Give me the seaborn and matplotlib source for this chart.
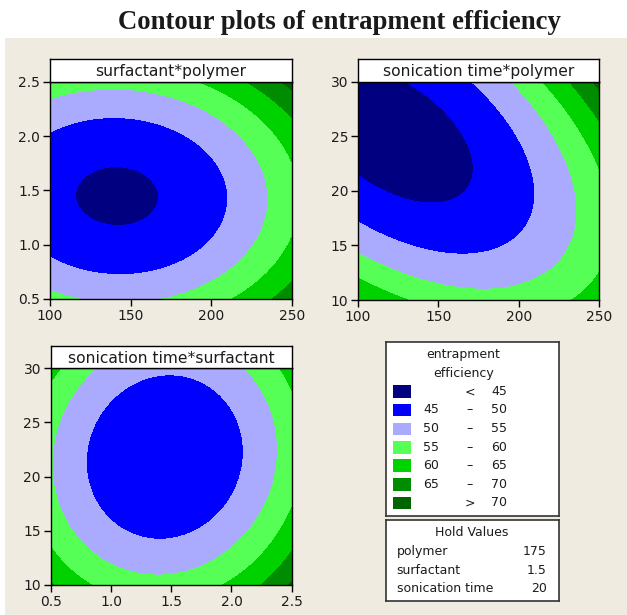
import numpy as np
import matplotlib
matplotlib.use("Agg")
import matplotlib.pyplot as plt
from matplotlib.patches import Rectangle
import seaborn as sns

# factors: name, low, high, hold value
factors = ["polymer", "surfactant", "sonication time"]
low = [100, 0.5, 10]
high = [250, 2.5, 30]
hold = [175, 1.5, 20]
hold_text = ["175", "1.5", "20"]

# quadratic response surface (coded units -1..1), estimated from the contours
b0 = 45.6
b_lin = [6.2, 1.4, -3.04]
b_sq = [6.94, 11.15, 8.22]
b_int = {(0, 1): 0.5, (0, 2): 7.5, (1, 2): -1.2}

levels = [0, 45, 50, 55, 60, 65, 70, 100]
colors = ["#000080", "#0000FF", "#AAAAFF", "#55FF55", "#00D200", "#008C00", "#006400"]
leg_low = ["", "45", "50", "55", "60", "65", ""]
leg_mid = ["<", "–", "–", "–", "–", "–", ">"]
leg_high = ["45", "50", "55", "60", "65", "70", "70"]

ticks = {0: [100, 150, 200, 250], 1: [0.5, 1.0, 1.5, 2.0, 2.5], 2: [10, 15, 20, 25, 30]}
tick_labels = {0: ["100", "150", "200", "250"],
               1: ["0.5", "1.0", "1.5", "2.0", "2.5"],
               2: ["10", "15", "20", "25", "30"]}

# (y factor, x factor, panel rect in px: left, top, right, bottom)
panels = [(1, 0, (50, 81.7, 291.7, 299)),
          (2, 0, (358, 81.7, 599, 300)),
          (2, 1, (50.7, 368.3, 291.7, 585))]

W, H = 627, 615


def response(c):
    y = b0
    for i in range(3):
        y = y + b_lin[i] * c[i] + b_sq[i] * c[i] ** 2
    for (i, j), b in b_int.items():
        y = y + b * c[i] * c[j]
    return y


def px_rect(l, t, r, b):
    return [l / W, (H - b) / H, (r - l) / W, (b - t) / H]


sns.set_style("ticks")
plt.rcParams["font.family"] = ["DejaVu Sans"]

fig = plt.figure(figsize=(W / 100, H / 100), dpi=100)
fig.patches.append(Rectangle((5 / W, 0), 1, (H - 38) / H, transform=fig.transFigure,
                             facecolor="#EFEBE1", edgecolor="none", zorder=-10))
fig.text(0.541, 0.963, "Contour plots of entrapment efficiency", ha="center", va="center",
         fontsize=19.3, fontweight="bold", family="Liberation Serif", color="#1a1a1a")

mid = [(lo + hi) / 2 for lo, hi in zip(low, high)]
half = [(hi - lo) / 2 for lo, hi in zip(low, high)]
u = np.linspace(-1, 1, 301)

for iy, ix, (l, t, r, b) in panels:
    ax = fig.add_axes(px_rect(l, t, r, b))
    U, V = np.meshgrid(u, u)
    coded = [np.full_like(U, (hold[k] - mid[k]) / half[k]) for k in range(3)]
    coded[ix] = U
    coded[iy] = V
    Z = response(coded)
    X = mid[ix] + half[ix] * U
    Y = mid[iy] + half[iy] * V
    ax.contourf(X, Y, Z, levels=levels, colors=colors)
    ax.set_xlim(low[ix], high[ix])
    ax.set_ylim(low[iy], high[iy])
    ax.set_xticks(ticks[ix])
    ax.set_xticklabels(tick_labels[ix])
    ax.set_yticks(ticks[iy])
    ax.set_yticklabels(tick_labels[iy])
    ax.tick_params(direction="out", length=5, width=1, color="black",
                   labelsize=10, labelcolor="#1c1c1c", pad=2)
    for s in ax.spines.values():
        s.set_color("black")
        s.set_linewidth(1)
        s.set_visible(True)

    # title strip above the panel
    tax = fig.add_axes(px_rect(l, t - 22.5, r, t))
    tax.set_facecolor("white")
    tax.set_xticks([])
    tax.set_yticks([])
    for s in tax.spines.values():
        s.set_color("black")
        s.set_linewidth(1)
    tax.text(0.5, 0.45, f"{factors[iy]}*{factors[ix]}", ha="center", va="center",
             fontsize=11.2, color="#1c1c1c", transform=tax.transAxes)

# legend box
lax = fig.add_axes(px_rect(385.7, 342.3, 559, 515.7))
lax.set_xlim(385.7, 559)
lax.set_ylim(515.7, 342.3)
lax.set_facecolor("white")
lax.set_xticks([])
lax.set_yticks([])
for s in lax.spines.values():
    s.set_color("#333333")
    s.set_linewidth(1.2)
lax.text(463.3, 355, "entrapment", ha="center", va="center", fontsize=9, color="#1c1c1c")
lax.text(463.3, 374, "efficiency", ha="center", va="center", fontsize=9, color="#1c1c1c")
row_y = [391.7, 410, 429, 447.3, 465.7, 484.3, 503]
for yy, c, lo, md, hi in zip(row_y, colors, leg_low, leg_mid, leg_high):
    lax.add_patch(Rectangle((393.3, yy - 6.3), 17.7, 12.7, facecolor=c, edgecolor="none"))
    lax.text(423, yy, lo, ha="left", va="center", fontsize=9, color="#1c1c1c")
    lax.text(470, yy, md, ha="center", va="center", fontsize=9, color="#1c1c1c")
    lax.text(491, yy, hi, ha="left", va="center", fontsize=9, color="#1c1c1c")

# hold values box
hax = fig.add_axes(px_rect(385.7, 520, 559, 600.7))
hax.set_xlim(385.7, 559)
hax.set_ylim(600.7, 520)
hax.set_facecolor("white")
hax.set_xticks([])
hax.set_yticks([])
for s in hax.spines.values():
    s.set_color("#333333")
    s.set_linewidth(1.2)
hax.text(471.7, 532.7, "Hold Values", ha="center", va="center", fontsize=9, color="#1c1c1c")
for yy, name, val in zip([551.7, 570, 589], factors, hold_text):
    hax.text(396.7, yy, name, ha="left", va="center", fontsize=9, color="#1c1c1c")
    hax.text(546.7, yy, val, ha="right", va="center", fontsize=9, color="#1c1c1c")

fig.savefig("out.png", dpi=100, facecolor="white")
